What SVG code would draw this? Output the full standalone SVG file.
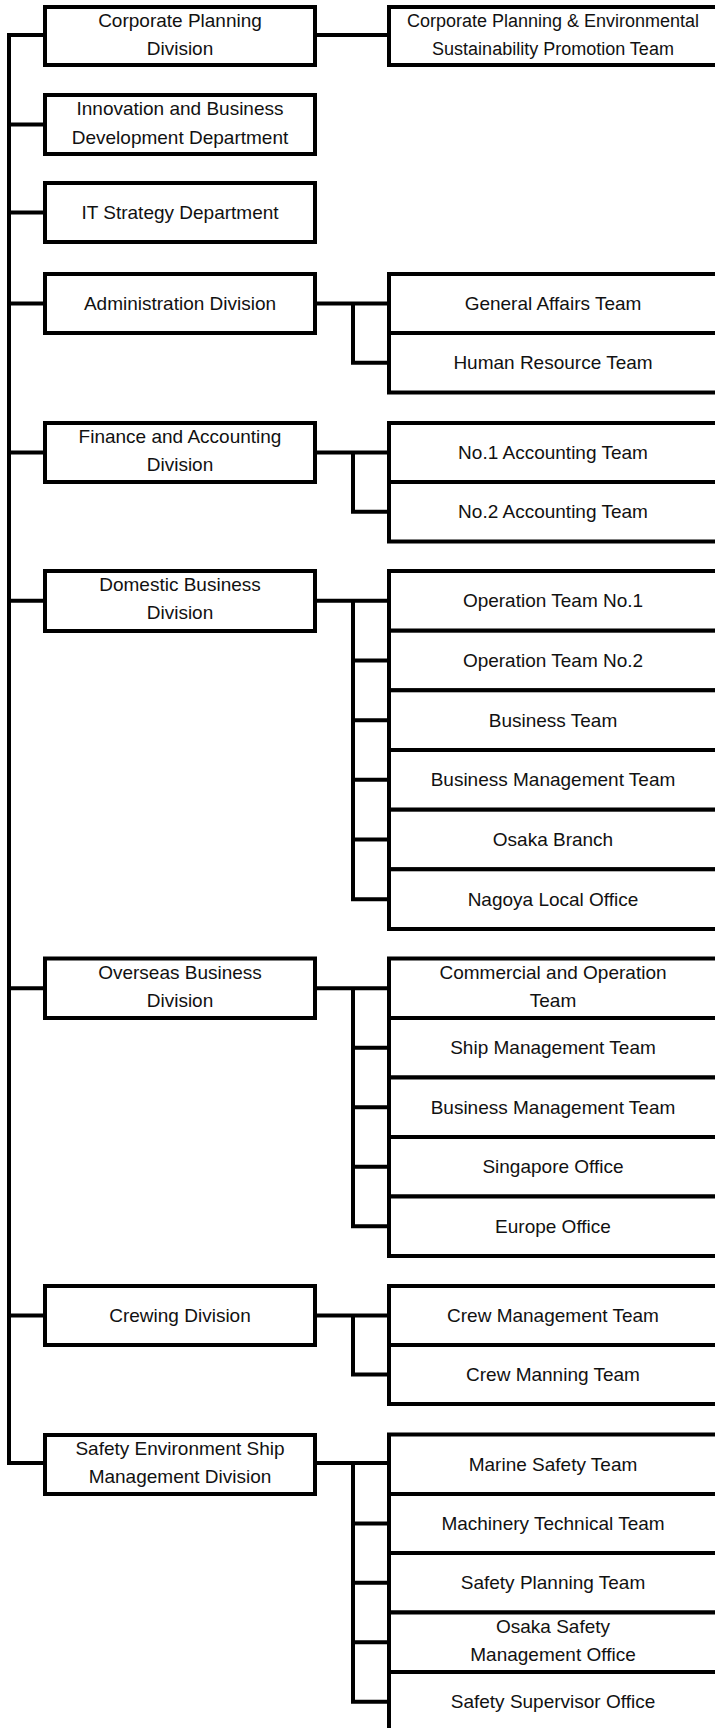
<svg xmlns="http://www.w3.org/2000/svg" width="715" height="1728" viewBox="0 0 715 1728">
<style>
.box{fill:#fff;stroke:#000;stroke-width:4}
.ln{fill:none;stroke:#000;stroke-width:4;stroke-linejoin:miter;stroke-linecap:butt}
text{font-family:"Liberation Sans",Arial,sans-serif;font-size:19px;fill:#111;text-anchor:middle}
.sm{font-size:18px}
</style>
<rect width="715" height="1728" fill="#fff"/>
<g id="connectors">
<path class="ln" d="M45 35 H9 V1463 H45 M9 124.5 H45 M9 212.5 H45 M9 303.5 H45 M9 452.5 H45 M9 600.85 H45 M9 988.25 H45 M9 1315.5 H45"/>
<path class="ln" d="M315 35 H389"/>
<path class="ln" d="M315 303.5 H389 M353 303.5 V362.75 H389"/>
<path class="ln" d="M315 452.5 H389 M353 452.5 V511.75 H389"/>
<path class="ln" d="M315 600.85 H389 M353 600.85 V899.15 H389 M353 660.5 H389 M353 720.15 H389 M353 779.85 H389 M353 839.5 H389"/>
<path class="ln" d="M315 988.25 H389 M353 988.25 V1226.25 H389 M353 1047.75 H389 M353 1107.25 H389 M353 1166.75 H389"/>
<path class="ln" d="M315 1315.5 H389 M353 1315.5 V1374.5 H389"/>
<path class="ln" d="M315 1463 H389 M353 1463 V1701.75 H389 M353 1523.5 H389 M353 1582.75 H389 M353 1642.25 H389"/>
</g>
<g id="div-corporate-planning"><rect class="box" x="45" y="7" width="270" height="58"/><text x="180" y="26.5">Corporate Planning</text><text x="180" y="54.5">Division</text></g>
<g id="div-innovation"><rect class="box" x="45" y="95" width="270" height="59"/><text x="180" y="115">Innovation and Business</text><text x="180" y="144">Development Department</text></g>
<g id="div-it-strategy"><rect class="box" x="45" y="183" width="270" height="59"/><text x="180" y="219">IT Strategy Department</text></g>
<g id="div-administration"><rect class="box" x="45" y="274" width="270" height="59"/><text x="180" y="310">Administration Division</text></g>
<g id="div-finance"><rect class="box" x="45" y="423" width="270" height="59"/><text x="180" y="442.5">Finance and Accounting</text><text x="180" y="470.5">Division</text></g>
<g id="div-domestic"><rect class="box" x="45" y="571" width="270" height="60"/><text x="180" y="591">Domestic Business</text><text x="180" y="619">Division</text></g>
<g id="div-overseas"><rect class="box" x="45" y="958.5" width="270" height="59.5"/><text x="180" y="978.5">Overseas Business</text><text x="180" y="1006.5">Division</text></g>
<g id="div-crewing"><rect class="box" x="45" y="1286" width="270" height="59"/><text x="180" y="1322">Crewing Division</text></g>
<g id="div-safety"><rect class="box" x="45" y="1435" width="270" height="59"/><text x="180" y="1454.5">Safety Environment Ship</text><text x="180" y="1482.5">Management Division</text></g>

<g id="team-cp-env"><rect class="box" x="389" y="7" width="328" height="58"/><text class="sm" x="553" y="26.5">Corporate Planning &amp; Environmental</text><text class="sm" x="553" y="54.5">Sustainability Promotion Team</text></g>

<g id="team-general-affairs"><rect class="box" x="389" y="274" width="328" height="59"/><text x="553" y="310">General Affairs Team</text></g>
<g id="team-human-resource"><rect class="box" x="389" y="333" width="328" height="59.5"/><text x="553" y="369.2">Human Resource Team</text></g>

<g id="team-accounting-1"><rect class="box" x="389" y="423" width="328" height="59"/><text x="553" y="459">No.1 Accounting Team</text></g>
<g id="team-accounting-2"><rect class="box" x="389" y="482" width="328" height="59.5"/><text x="553" y="518.2">No.2 Accounting Team</text></g>

<g id="team-operation-1"><rect class="box" x="389" y="571" width="328" height="59.7"/><text x="553" y="607.3">Operation Team No.1</text></g>
<g id="team-operation-2"><rect class="box" x="389" y="630.7" width="328" height="59.6"/><text x="553" y="667">Operation Team No.2</text></g>
<g id="team-business"><rect class="box" x="389" y="690.3" width="328" height="59.7"/><text x="553" y="726.7">Business Team</text></g>
<g id="team-business-mgmt-dom"><rect class="box" x="389" y="750" width="328" height="59.7"/><text x="553" y="786.3">Business Management Team</text></g>
<g id="team-osaka-branch"><rect class="box" x="389" y="809.7" width="328" height="59.6"/><text x="553" y="846">Osaka Branch</text></g>
<g id="team-nagoya"><rect class="box" x="389" y="869.3" width="328" height="59.7"/><text x="553" y="905.7">Nagoya Local Office</text></g>

<g id="team-commercial"><rect class="box" x="389" y="958.5" width="328" height="59.5"/><text x="553" y="978.5">Commercial and Operation</text><text x="553" y="1006.5">Team</text></g>
<g id="team-ship-mgmt"><rect class="box" x="389" y="1018" width="328" height="59.5"/><text x="553" y="1054.25">Ship Management Team</text></g>
<g id="team-business-mgmt-ovs"><rect class="box" x="389" y="1077.5" width="328" height="59.5"/><text x="553" y="1113.75">Business Management Team</text></g>
<g id="team-singapore"><rect class="box" x="389" y="1137" width="328" height="59.5"/><text x="553" y="1173.25">Singapore Office</text></g>
<g id="team-europe"><rect class="box" x="389" y="1196.5" width="328" height="59.5"/><text x="553" y="1232.75">Europe Office</text></g>

<g id="team-crew-mgmt"><rect class="box" x="389" y="1286" width="328" height="59"/><text x="553" y="1322">Crew Management Team</text></g>
<g id="team-crew-manning"><rect class="box" x="389" y="1345" width="328" height="59"/><text x="553" y="1381">Crew Manning Team</text></g>

<g id="team-marine-safety"><rect class="box" x="389" y="1434.5" width="328" height="59.5"/><text x="553" y="1470.75">Marine Safety Team</text></g>
<g id="team-machinery"><rect class="box" x="389" y="1494" width="328" height="59"/><text x="553" y="1530">Machinery Technical Team</text></g>
<g id="team-safety-planning"><rect class="box" x="389" y="1553" width="328" height="59.5"/><text x="553" y="1589.25">Safety Planning Team</text></g>
<g id="team-osaka-safety"><rect class="box" x="389" y="1612.5" width="328" height="59.5"/><text x="553" y="1632.5">Osaka Safety</text><text x="553" y="1660.5">Management Office</text></g>
<g id="team-safety-supervisor"><rect class="box" x="389" y="1672" width="328" height="59.5"/><text x="553" y="1708.25">Safety Supervisor Office</text></g>
</svg>
